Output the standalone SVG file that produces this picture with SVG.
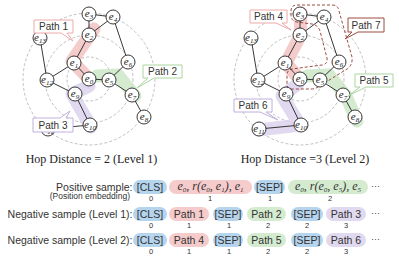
<svg xmlns="http://www.w3.org/2000/svg" width="399" height="264" viewBox="0 0 399 264">
<style>
.dc{fill:none;stroke:#b0b0b0;stroke-width:0.8;stroke-dasharray:3 2}
.band{fill:none;stroke-linecap:round;stroke-linejoin:round;stroke-width:13;opacity:0.85}
.ed{stroke:#222;stroke-width:0.9;fill:none}
.nd circle{fill:#fff;stroke:#222;stroke-width:0.9}
.nl{font-family:"Liberation Serif",serif;font-style:italic;font-size:11px;text-anchor:middle;fill:#222}
.sb{font-size:7px}
.co{fill:#fff;stroke-width:1}
.ct{font-family:"Liberation Sans",sans-serif;font-size:10px;fill:#333;text-anchor:middle}
.cap{font-family:"Liberation Serif",serif;font-size:12px;fill:#222;text-anchor:middle}
.lb{font-family:"Liberation Sans",sans-serif;font-size:10.5px;fill:#333;text-anchor:end}
.lbs{font-family:"Liberation Sans",sans-serif;font-size:8.5px;fill:#333;text-anchor:end}
.pt{font-family:"Liberation Sans",sans-serif;font-size:10.5px;fill:#333;text-anchor:middle}
.pm{font-family:"Liberation Serif",serif;font-style:italic;font-size:12px;fill:#333;text-anchor:middle}
.num{font-family:"Liberation Sans",sans-serif;font-size:7.5px;fill:#333;text-anchor:middle}
.dots{font-family:"Liberation Sans",sans-serif;font-size:9px;fill:#444}
.pb{fill:#b5d4ee}.pp{fill:#f6cbcb}.pg{fill:#d4ebd0}.pu{fill:#e1d9ef}
</style>

<!-- distance circles -->
<g id="rings">
<circle class="dc" cx="89" cy="79" r="22"/><circle class="dc" cx="89" cy="79" r="44"/><circle class="dc" cx="89" cy="79" r="66"/>
<circle class="dc" cx="300" cy="79" r="22"/><circle class="dc" cx="300" cy="79" r="44"/><circle class="dc" cx="300" cy="79" r="66"/>
</g>

<!-- path bands -->
<g id="bands">
<polyline class="band" stroke="#f3c3c3" points="90,80 72,61 94,29"/>
<polyline class="band" stroke="#cde7c8" points="97,76 118,75 135,96"/>
<polyline class="band" stroke="#dbd2ec" points="89,86 72,94 91,127"/>
<polyline class="band" stroke="#f3c3c3" points="300,80 286,63 300,36 301,13"/>
<polyline class="band" stroke="#cde7c8" points="307,76 329,75 346,96 357,121"/>
<polyline class="band" stroke="#dbd2ec" points="298,84 282,96 300,125 258,130"/>
<path fill="none" stroke="#9e4b40" stroke-width="1" stroke-dasharray="3 2" d="M297,5 H332 Q338,5 339,11 L352,57 Q353,65 347,69 L318,87 Q315,89 311,89 H292 Q287,89 287,84 V75 Q287,70 292,69 L322,65 Q328,64 327,58 L320,31 Q318,25 312,24 L297,22 Q291,21 291,15 V11 Q291,5 297,5 Z"/>
</g>

<!-- connectors -->
<g id="connectors" class="ed">
<path d="M89,14 L113,17 M89,14 L89,35 M89,35 L113,17 M89,35 L74,63 M74,63 L89,79 M74,63 L47,80 M47,80 L40,38 M47,80 L75,94 M89,79 L109,80 M109,80 L128,62 M128,62 L113,17 M109,80 L132,95 M132,95 L144,117 M75,94 L90,125 M90,125 L48,129"/>
<path d="M300,14 L324,17 M300,14 L300,35 M300,35 L324,17 M300,35 L285,63 M285,63 L300,79 M285,63 L258,80 M258,80 L251,38 M258,80 L286,94 M300,79 L320,80 M320,80 L339,62 M339,62 L324,17 M320,80 L343,95 M343,95 L355,117 M286,94 L301,125 M301,125 L259,129"/>
</g>

<!-- left graph nodes -->
<g id="L-e0" class="nd"><circle cx="89" cy="79" r="7"/><text class="nl" x="89" y="81.5">e<tspan class="sb" dy="2">0</tspan></text></g>
<g id="L-e1" class="nd"><circle cx="74" cy="63" r="7"/><text class="nl" x="74" y="65.5">e<tspan class="sb" dy="2">1</tspan></text></g>
<g id="L-e2" class="nd"><circle cx="89" cy="35" r="7"/><text class="nl" x="89" y="37.5">e<tspan class="sb" dy="2">2</tspan></text></g>
<g id="L-e3" class="nd"><circle cx="89" cy="14" r="7"/><text class="nl" x="89" y="16.5">e<tspan class="sb" dy="2">3</tspan></text></g>
<g id="L-e4" class="nd"><circle cx="113" cy="17" r="7"/><text class="nl" x="113" y="19.5">e<tspan class="sb" dy="2">4</tspan></text></g>
<g id="L-e5" class="nd"><circle cx="109" cy="80" r="7"/><text class="nl" x="109" y="82.5">e<tspan class="sb" dy="2">5</tspan></text></g>
<g id="L-e6" class="nd"><circle cx="128" cy="62" r="7"/><text class="nl" x="128" y="64.5">e<tspan class="sb" dy="2">6</tspan></text></g>
<g id="L-e7" class="nd"><circle cx="132" cy="95" r="7"/><text class="nl" x="132" y="97.5">e<tspan class="sb" dy="2">7</tspan></text></g>
<g id="L-e8" class="nd"><circle cx="144" cy="117" r="7"/><text class="nl" x="144" y="119.5">e<tspan class="sb" dy="2">8</tspan></text></g>
<g id="L-e9" class="nd"><circle cx="75" cy="94" r="7"/><text class="nl" x="75" y="96.5">e<tspan class="sb" dy="2">9</tspan></text></g>
<g id="L-e10" class="nd"><circle cx="90" cy="125" r="7"/><text class="nl" x="90" y="127.5">e<tspan class="sb" dy="2">10</tspan></text></g>
<g id="L-e11" class="nd"><circle cx="48" cy="129" r="7"/><text class="nl" x="48" y="131.5">e<tspan class="sb" dy="2">11</tspan></text></g>
<g id="L-e12" class="nd"><circle cx="47" cy="80" r="7"/><text class="nl" x="47" y="82.5">e<tspan class="sb" dy="2">12</tspan></text></g>
<g id="L-e13" class="nd"><circle cx="40" cy="38" r="7"/><text class="nl" x="40" y="40.5">e<tspan class="sb" dy="2">13</tspan></text></g>

<!-- right graph nodes -->
<g id="R-e0" class="nd"><circle cx="300" cy="79" r="7"/><text class="nl" x="300" y="81.5">e<tspan class="sb" dy="2">0</tspan></text></g>
<g id="R-e1" class="nd"><circle cx="285" cy="63" r="7"/><text class="nl" x="285" y="65.5">e<tspan class="sb" dy="2">1</tspan></text></g>
<g id="R-e2" class="nd"><circle cx="300" cy="35" r="7"/><text class="nl" x="300" y="37.5">e<tspan class="sb" dy="2">2</tspan></text></g>
<g id="R-e3" class="nd"><circle cx="300" cy="14" r="7"/><text class="nl" x="300" y="16.5">e<tspan class="sb" dy="2">3</tspan></text></g>
<g id="R-e4" class="nd"><circle cx="324" cy="17" r="7"/><text class="nl" x="324" y="19.5">e<tspan class="sb" dy="2">4</tspan></text></g>
<g id="R-e5" class="nd"><circle cx="320" cy="80" r="7"/><text class="nl" x="320" y="82.5">e<tspan class="sb" dy="2">5</tspan></text></g>
<g id="R-e6" class="nd"><circle cx="339" cy="62" r="7"/><text class="nl" x="339" y="64.5">e<tspan class="sb" dy="2">6</tspan></text></g>
<g id="R-e7" class="nd"><circle cx="343" cy="95" r="7"/><text class="nl" x="343" y="97.5">e<tspan class="sb" dy="2">7</tspan></text></g>
<g id="R-e8" class="nd"><circle cx="355" cy="117" r="7"/><text class="nl" x="355" y="119.5">e<tspan class="sb" dy="2">8</tspan></text></g>
<g id="R-e9" class="nd"><circle cx="286" cy="94" r="7"/><text class="nl" x="286" y="96.5">e<tspan class="sb" dy="2">9</tspan></text></g>
<g id="R-e10" class="nd"><circle cx="301" cy="125" r="7"/><text class="nl" x="301" y="127.5">e<tspan class="sb" dy="2">10</tspan></text></g>
<g id="R-e11" class="nd"><circle cx="259" cy="129" r="7"/><text class="nl" x="259" y="131.5">e<tspan class="sb" dy="2">11</tspan></text></g>
<g id="R-e12" class="nd"><circle cx="258" cy="80" r="7"/><text class="nl" x="258" y="82.5">e<tspan class="sb" dy="2">12</tspan></text></g>
<g id="R-e13" class="nd"><circle cx="251" cy="38" r="7"/><text class="nl" x="251" y="40.5">e<tspan class="sb" dy="2">13</tspan></text></g>

<!-- callouts -->
<g id="callout-path1"><path class="co" stroke="#eeaaaa" d="M34,20 H73 V33 H67 L73,41 L61,33 H34 Z"/><text class="ct" x="53.5" y="30">Path 1</text></g>
<g id="callout-path2"><path class="co" stroke="#a9d6a0" d="M143,65 H182 V78 H154 L137,88 L148,78 H143 Z"/><text class="ct" x="162.5" y="75">Path 2</text></g>
<g id="callout-path3"><path class="co" stroke="#c0b0dc" d="M33,118 H60 L70,111 L66,118 H73 V132 H33 Z"/><text class="ct" x="53" y="128.5">Path 3</text></g>
<g id="callout-path4"><path class="co" stroke="#eeaaaa" d="M250,10 H287 V23 H282 L291,30 L276,23 H250 Z"/><text class="ct" x="268.5" y="20">Path 4</text></g>
<g id="callout-path5"><path class="co" stroke="#a9d6a0" d="M355,74 H393 V87 H366 L348,96 L360,87 H355 Z"/><text class="ct" x="374" y="84">Path 5</text></g>
<g id="callout-path6"><path class="co" stroke="#c0b0dc" d="M234,99 H272 V112 H266 L278,120 L260,112 H234 Z"/><text class="ct" x="253" y="109">Path 6</text></g>
<g id="callout-path7"><path class="co" stroke="#9e4b40" d="M348,18 H384 V32 H358 L345,39 L352,32 H348 Z"/><text class="ct" x="366" y="28.5">Path 7</text></g>

<!-- captions -->
<text class="cap" x="91.5" y="163">Hop Distance = 2 (Level 1)</text>
<text class="cap" x="305" y="163">Hop Distance =3 (Level 2)</text>

<!-- row 1 -->
<g id="row1">
<text class="lb" x="132.5" y="190.5">Positive sample:</text>
<text class="lbs" x="130" y="199">(Position embedding)</text>
<rect class="pb" x="133" y="180" width="34" height="14" rx="7"/><text class="pt" x="150" y="190.5">[CLS]</text><text class="num" x="151" y="201">0</text>
<rect class="pp" x="169" y="180" width="83" height="14" rx="7"/>
<text class="pm" x="210.5" y="190">e<tspan class="sb" dy="2">0</tspan><tspan dy="-2">, r(e</tspan><tspan class="sb" dy="2">0</tspan><tspan dy="-2">, e</tspan><tspan class="sb" dy="2">1</tspan><tspan dy="-2">), e</tspan><tspan class="sb" dy="2">1</tspan></text>
<text class="num" x="210" y="201">1</text>
<rect class="pb" x="254" y="180" width="31" height="14" rx="7"/><text class="pt" x="269.5" y="190.5">[SEP]</text><text class="num" x="270" y="201">1</text>
<rect class="pg" x="288" y="180" width="80" height="14" rx="7"/>
<text class="pm" x="328" y="190">e<tspan class="sb" dy="2">0</tspan><tspan dy="-2">, r(e</tspan><tspan class="sb" dy="2">0</tspan><tspan dy="-2">, e</tspan><tspan class="sb" dy="2">5</tspan><tspan dy="-2">), e</tspan><tspan class="sb" dy="2">5</tspan></text>
<text class="num" x="330" y="201">2</text>
<text class="dots" x="371" y="189">···</text>
</g>

<!-- row 2 -->
<g id="row2">
<text class="lb" x="132.5" y="218">Negative sample (Level 1):</text>
<rect class="pb" x="133" y="207" width="34" height="14" rx="7"/><text class="pt" x="150" y="217.5">[CLS]</text><text class="num" x="151" y="228">0</text>
<rect class="pp" x="169" y="207" width="40" height="14" rx="7"/><text class="pt" x="189" y="217.5">Path 1</text><text class="num" x="189" y="228">1</text>
<rect class="pb" x="213" y="207" width="30" height="14" rx="7"/><text class="pt" x="228" y="217.5">[SEP]</text><text class="num" x="229" y="228">1</text>
<rect class="pg" x="247" y="207" width="39" height="14" rx="7"/><text class="pt" x="266.5" y="217.5">Path 2</text><text class="num" x="268" y="228">2</text>
<rect class="pb" x="291" y="207" width="32" height="14" rx="7"/><text class="pt" x="307" y="217.5">[SEP]</text><text class="num" x="307" y="228">2</text>
<rect class="pu" x="326" y="207" width="40" height="14" rx="7"/><text class="pt" x="346" y="217.5">Path 3</text><text class="num" x="346" y="228">3</text>
<text class="dots" x="371" y="216">···</text>
</g>

<!-- row 3 -->
<g id="row3">
<text class="lb" x="132.5" y="244">Negative sample (Level 2):</text>
<rect class="pb" x="133" y="233" width="34" height="14" rx="7"/><text class="pt" x="150" y="243.5">[CLS]</text><text class="num" x="151" y="254">0</text>
<rect class="pp" x="169" y="233" width="40" height="14" rx="7"/><text class="pt" x="189" y="243.5">Path 4</text><text class="num" x="189" y="254">1</text>
<rect class="pb" x="213" y="233" width="30" height="14" rx="7"/><text class="pt" x="228" y="243.5">[SEP]</text><text class="num" x="229" y="254">1</text>
<rect class="pg" x="247" y="233" width="39" height="14" rx="7"/><text class="pt" x="266.5" y="243.5">Path 5</text><text class="num" x="268" y="254">2</text>
<rect class="pb" x="291" y="233" width="32" height="14" rx="7"/><text class="pt" x="307" y="243.5">[SEP]</text><text class="num" x="307" y="254">2</text>
<rect class="pu" x="326" y="233" width="40" height="14" rx="7"/><text class="pt" x="346" y="243.5">Path 6</text><text class="num" x="346" y="254">3</text>
<text class="dots" x="371" y="242">···</text>
</g>
</svg>
